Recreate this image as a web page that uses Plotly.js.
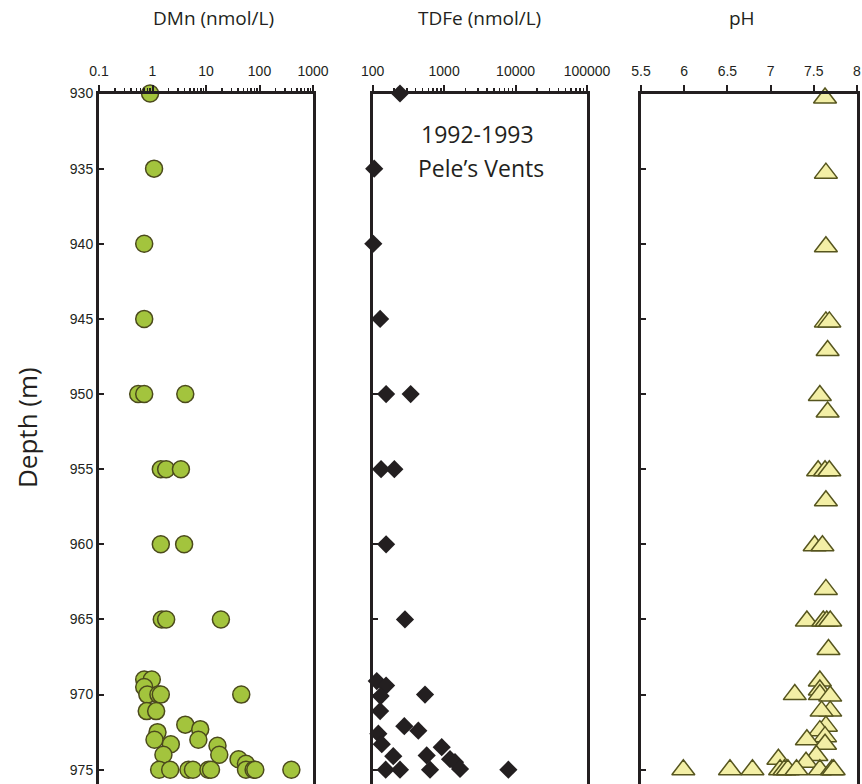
<!DOCTYPE html>
<html>
<head>
<meta charset="utf-8">
<script src="https://cdn.plot.ly/plotly-3.0.1.min.js"></script>
<style>html,body{margin:0;padding:0;background:#fff;}#chart{width:862px;height:784px;}</style>
</head>
<body>
<div id="chart"></div>
<script>
// ---- DMn (nmol/L) ----
const dmnDepth = [930, 935, 940, 945,
  950, 950, 950,
  955, 955, 955,
  960, 960,
  965, 965, 965,
  969.0, 969.0, 969.5,
  970, 970, 970, 970,
  971.1, 971.1,
  972.0, 972.3, 972.5, 973.0, 973.0, 973.3, 973.4, 974.0, 974.0, 974.3, 974.6,
  975, 975, 975, 975, 975, 975, 975, 975, 975, 975];
const dmnValue = [0.9, 1.07, 0.7, 0.7,
  0.54, 0.70, 4.1,
  1.43, 1.8, 3.4,
  1.43, 3.9,
  1.49, 1.8, 19,
  0.70, 0.97, 0.70,
  0.80, 1.29, 1.43, 45.6,
  0.78, 1.17,
  4.1, 7.8, 1.24, 1.09, 7.2, 2.2, 16.4, 17.7, 1.6, 40.6, 55.9,
  1.33, 2.14, 4.7, 5.7, 11.1, 12.4, 55.9, 77.6, 83.5, 394];

// ---- TDFe (nmol/L) ----
const feDepth = [930, 935, 940, 945,
  950, 950, 955, 955, 960, 965,
  969.1, 969.4, 970.1, 970.0, 971.1,
  972.1, 972.4, 972.6, 973.3, 973.5,
  974.1, 974.05, 974.3, 974.5, 974.95,
  975, 975, 975, 975];
const feValue = [241, 105, 102, 127,
  154, 340, 131, 201, 154, 283,
  114, 154, 129, 540, 127,
  277, 435, 120, 134, 925,
  194, 570, 1210, 1420, 1670,
  152, 241, 635, 7930];

// ---- pH ----
const phDepth = [930.3, 935.3, 940.2, 945.2, 945.2, 947.1,
  950.1, 951.2, 955.1, 955.1, 955.1, 957.1, 960.1, 960.1,
  963.0, 965.1, 965.1, 965.1, 965.1, 967.0,
  969.1, 969.7, 970.0, 970.0, 970.1, 971.1, 971.1,
  972.1, 972.4, 972.8, 973.0, 973.3, 974.05, 974.5, 974.3,
  975, 975, 975, 975, 975, 975, 975, 975, 975, 975];
const phValue = [7.63, 7.64, 7.64, 7.64, 7.68, 7.66,
  7.57, 7.66, 7.55, 7.63, 7.68, 7.64, 7.51, 7.60,
  7.64, 7.42, 7.61, 7.65, 7.69, 7.67,
  7.57, 7.57, 7.28, 7.57, 7.69, 7.69, 7.59,
  7.64, 7.57, 7.63, 7.42, 7.63, 7.53, 7.41, 7.09,
  5.99, 6.53, 6.79, 7.11, 7.16, 7.20, 7.30, 7.57, 7.71, 7.73];

const depthTicks = [930, 935, 940, 945, 950, 955, 960, 965, 970, 975];
const dmnTicks = [0.1, 1, 10, 100, 1000];
const feTicks = [100, 1000, 10000, 100000];
const phTicks = [5.5, 6, 6.5, 7, 7.5, 8];

const W = 862, H = 784;
const ink = '#231f20';
const tickFont = {family: 'Liberation Sans, Arial, sans-serif', size: 14, color: ink};
const titleFamily = 'Open Sans, Noto Sans, sans-serif';
const titleFont = {family: titleFamily, size: 19, color: ink};

const traces = [
  {x: dmnValue, y: dmnDepth, xaxis: 'x', yaxis: 'y', type: 'scatter', mode: 'markers', cliponaxis: false,
   marker: {symbol: 'circle', size: 17, color: '#a3c43d', line: {color: '#4b4a1c', width: 1.5}}},
  {x: feValue, y: feDepth, xaxis: 'x2', yaxis: 'y2', type: 'scatter', mode: 'markers', cliponaxis: false,
   marker: {symbol: 'diamond', size: 14, color: ink, line: {width: 0}}},
  {x: phValue, y: phDepth, xaxis: 'x3', yaxis: 'y3', type: 'scatter', mode: 'markers', cliponaxis: false,
   marker: {symbol: 'triangle-up', size: 20, color: '#f3efa6', line: {color: '#56551e', width: 1.5}}}
];

const plotTopPx = 93.5;
const yDomTop = 1 - plotTopPx / H;
function px(v) { return v / W; }

function xAx(dom, extra) {
  return Object.assign({
    domain: [px(dom[0]), px(dom[1])], side: 'top',
    showline: true, linecolor: ink, linewidth: 2.5,
    ticks: 'outside', ticklen: 6, tickwidth: 2, tickcolor: ink,
    ticklabelstandoff: 3,
    showgrid: false, zeroline: false, tickfont: tickFont, fixedrange: true
  }, extra);
}
function yAx(anchor, labels) {
  return {
    domain: [0, yDomTop], anchor: anchor,
    range: [975.95, 930], showline: true, mirror: true, linecolor: ink, linewidth: 3,
    ticks: 'inside', ticklen: 5, tickwidth: 2, tickcolor: ink,
    tickvals: depthTicks, showticklabels: labels, tickfont: tickFont,
    showgrid: false, zeroline: false, fixedrange: true
  };
}

const layout = {
  width: W, height: H,
  margin: {l: 0, r: 0, t: 0, b: 0},
  paper_bgcolor: '#fff', plot_bgcolor: '#fff',
  showlegend: false,
  xaxis: xAx([99, 313], {type: 'log', range: [-1, 3], anchor: 'y',
    tickvals: dmnTicks, ticktext: dmnTicks.map(String),
    minor: {ticks: 'outside', ticklen: 3, tickwidth: 1.5, tickcolor: ink, dtick: 'D1', showgrid: false}}),
  xaxis2: xAx([372.7, 587], {type: 'log', range: [2, 5], anchor: 'y2',
    tickvals: feTicks, ticktext: feTicks.map(String),
    minor: {ticks: 'outside', ticklen: 3, tickwidth: 1.5, tickcolor: ink, dtick: 'D1', showgrid: false}}),
  xaxis3: xAx([641, 857], {type: 'linear', range: [5.5, 8], anchor: 'y3',
    tickvals: phTicks, ticktext: phTicks.map(String)}),
  yaxis: yAx('x', true),
  yaxis2: yAx('x2', false),
  yaxis3: yAx('x3', false),
  annotations: [
    {text: 'DMn (nmol/L)', xref: 'paper', yref: 'paper', x: px(213), y: 1 - 18 / H, showarrow: false, font: titleFont, xanchor: 'center', yanchor: 'middle'},
    {text: 'TDFe (nmol/L)', xref: 'paper', yref: 'paper', x: px(479), y: 1 - 18 / H, showarrow: false, font: titleFont, xanchor: 'center', yanchor: 'middle'},
    {text: 'pH', xref: 'paper', yref: 'paper', x: px(742), y: 1 - 18 / H, showarrow: false, font: titleFont, xanchor: 'center', yanchor: 'middle'},
    {text: 'Depth (m)', xref: 'paper', yref: 'paper', x: px(27), y: 1 - 428 / H, showarrow: false, textangle: -90,
     font: {family: titleFamily, size: 26, color: ink}, xanchor: 'center', yanchor: 'middle'},
    {text: '1992-1993', xref: 'paper', yref: 'paper', x: px(477), y: 1 - 134 / H, showarrow: false,
     font: {family: titleFamily, size: 23, color: ink}, xanchor: 'center', yanchor: 'middle'},
    {text: 'Pele\u2019s Vents', xref: 'paper', yref: 'paper', x: px(481), y: 1 - 168 / H, showarrow: false,
     font: {family: titleFamily, size: 23, color: ink}, xanchor: 'center', yanchor: 'middle'}
  ]
};

Plotly.newPlot('chart', traces, layout, {displayModeBar: false, staticPlot: true});
</script>
</body>
</html>
